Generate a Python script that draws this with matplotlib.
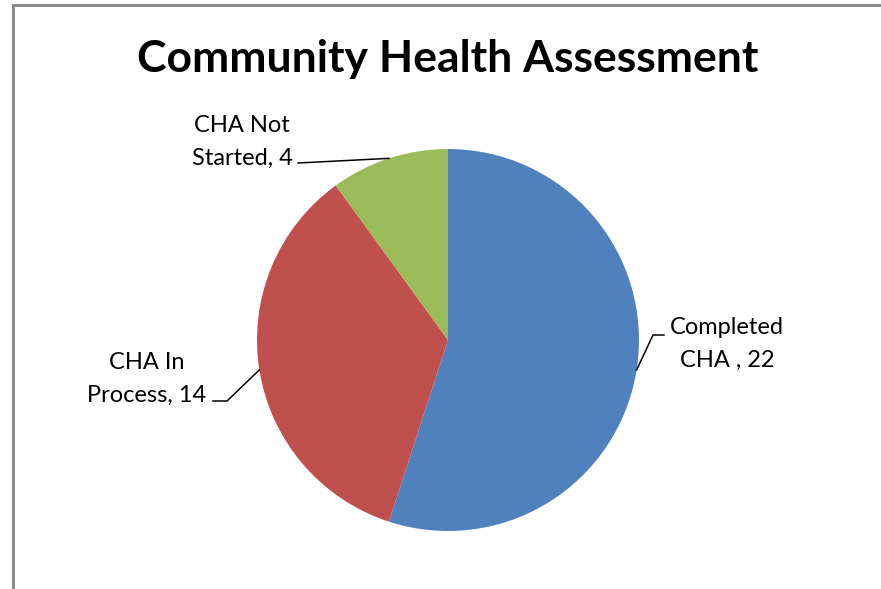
import numpy as np
import matplotlib
matplotlib.use("Agg")
import matplotlib.pyplot as plt
from matplotlib.lines import Line2D

# ---- data ----
categories = ["Completed\nCHA , 22", "CHA In\nProcess, 14", "CHA Not\nStarted, 4"]
values = [22, 14, 4]
colors = ["#4F81BD", "#C0504D", "#9BBB59"]
title = "Community Health Assessment"

W, H = 881, 589
fig = plt.figure(figsize=(W / 100, H / 100), dpi=100)
ax = fig.add_axes([0, 0, 1, 1])
ax.set_xlim(0, W)
ax.set_ylim(0, H)
ax.set_aspect("equal")
ax.axis("off")

cx, cy, r = 448, H - 340, 191
wedges, _ = ax.pie(values, colors=colors, startangle=90, counterclock=False,
                   center=(cx, cy), radius=r, frame=True,
                   wedgeprops=dict(linewidth=0))
ax.set_xlim(0, W)
ax.set_ylim(0, H)
ax.axis("off")

# chart frame (gray border)
fig.add_artist(Line2D([13 / W, 13 / W], [0, 1 - 5 / H], color="#8c8c8c", lw=2.2, transform=fig.transFigure))
fig.add_artist(Line2D([13 / W, 1], [1 - 5 / H, 1 - 5 / H], color="#8c8c8c", lw=2.2, transform=fig.transFigure))

font = "Lato"
ax.text(448, H - 59, title, ha="center", va="center", fontsize=32, fontweight="bold",
        family=font, color="black")

# label positions (text centre) and leader elbows, in pixel coordinates
label_pos = [(727, H - 344), (147, H - 379), (242, H - 142)]
elbows = [[(653, H - 335), (664, H - 335)],
          [(227, H - 401), (213, H - 401)],
          [(298, H - 163)]]

total = sum(values)
start = 90.0
for i, v in enumerate(values):
    span = 360.0 * v / total
    mid = np.deg2rad(start - span / 2)
    start -= span
    px, py = cx + r * np.cos(mid), cy + r * np.sin(mid)
    pts = [(px, py)] + elbows[i]
    ax.plot([p[0] for p in pts], [p[1] for p in pts], color="black", lw=1.1)
    ax.text(label_pos[i][0], label_pos[i][1], categories[i], ha="center", va="center",
            fontsize=17, family=font, color="black", linespacing=1.68)

fig.savefig("out.png", dpi=100)
